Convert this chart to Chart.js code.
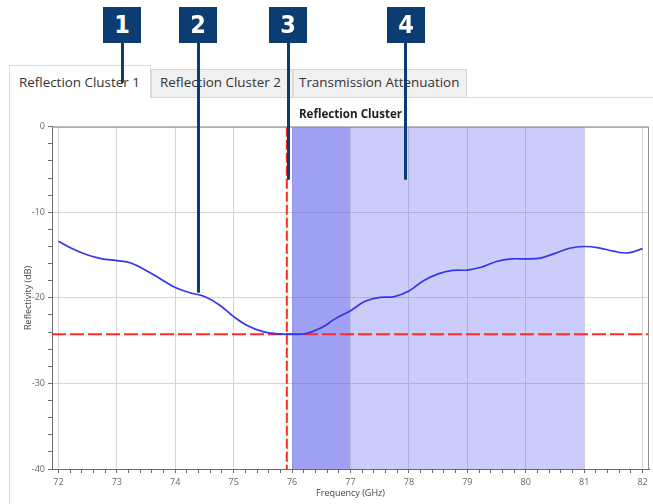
<!DOCTYPE html>
<html>
<head>
<meta charset="utf-8">
<title>Reflection Cluster</title>
<script src="https://cdn.jsdelivr.net/npm/chart.js@4.4.1/dist/chart.umd.min.js"></script>
<style>
    html, body {
        margin: 0;
        padding: 0;
        background: #fff;
    }

    body {
        position: relative;
        width: 653px;
        height: 504px;
        overflow: hidden;
        font-family: "Open Sans", "Noto Sans", sans-serif;
    }

    .painel {
        position: absolute;
        left: 9px;
        top: 97px;
        width: 700px;
        height: 500px;
        border-top: 1px solid #d9d9d9;
        border-left: 1px solid #d9d9d9;
    }

    .aba {
        position: absolute;
        box-sizing: border-box;
        font-size: 13.4px;
        color: #333;
        white-space: nowrap;
        border: 1px solid #d9d9d9;
        border-bottom: none;
        background: #f0f0f0;
    }

    .aba.ativa {
        background: #fff;
        z-index: 2;
    }

    #graficoReflexao {
        position: absolute;
        left: 0;
        top: 98px;
    }

    .marcador {
        position: absolute;
        top: 7px;
        width: 38px;
        height: 36px;
        background: #0b3d72;
        color: #fff;
        font-family: "Liberation Sans Narrow", "DejaVu Sans Condensed", sans-serif;
        font-weight: bold;
        font-size: 25px;
        line-height: 36px;
        text-align: center;
        z-index: 5;
    }

    .haste {
        position: absolute;
        top: 40px;
        width: 3px;
        margin-left: -1.5px;
        background: #0b3d72;
        border-radius: 0 0 2px 2px;
        z-index: 5;
    }
</style>
</head>
<body>

<div class="painel"></div>

<div class="aba ativa" style="left:9px; top:65px; width:142px; height:33px; padding:7px 0 0 9px;">Reflection Cluster 1</div>
<div class="aba" style="left:151px; top:69px; width:142px; height:28px; padding:3px 0 0 8px;">Reflection Cluster 2</div>
<div class="aba" style="left:293px; top:69px; width:174px; height:28px; padding:3px 0 0 5px;">Transmission Attenuation</div>

<canvas id="graficoReflexao" width="653" height="406"></canvas>

<div class="haste" style="left:122.5px; height:43px;"></div>
<div class="haste" style="left:198px; height:253px;"></div>
<div class="haste" style="left:288px; height:140px;"></div>
<div class="haste" style="left:405.5px; height:140px;"></div>

<div class="marcador" style="left:103px;">1</div>
<div class="marcador" style="left:179px;">2</div>
<div class="marcador" style="left:269px;">3</div>
<div class="marcador" style="left:387px;">4</div>

<script>
/* ==========================================================================
   Reflection Cluster – reflectivity versus frequency
   ========================================================================== */

// curve (GHz / dB)
const frequencias = [
    72.0, 72.25, 72.5, 72.75, 73.0, 73.25, 73.5, 73.75, 74.0, 74.25,
    74.5, 74.75, 75.0, 75.25, 75.5, 75.75, 76.0, 76.25, 76.5, 76.75,
    77.0, 77.25, 77.5, 77.75, 78.0, 78.25, 78.5, 78.75, 79.0, 79.25,
    79.5, 79.75, 80.0, 80.25, 80.5, 80.75, 81.0, 81.25, 81.5, 81.75, 82.0
];

const refletividade = [
    -13.4, -14.3, -15.0, -15.45, -15.65, -15.95, -16.8, -17.8, -18.8, -19.4,
    -19.85, -20.8, -22.2, -23.3, -23.95, -24.2, -24.25, -24.15, -23.5, -22.4,
    -21.5, -20.4, -19.95, -19.85, -19.2, -18.0, -17.2, -16.8, -16.75, -16.4,
    -15.75, -15.45, -15.45, -15.35, -14.8, -14.2, -14.0, -14.15, -14.55, -14.75, -14.25
];

// axis ticks and ranges
const ticksFrequencia = [72, 73, 74, 75, 76, 77, 78, 79, 80, 81, 82];
const ticksRefletividade = [0, -10, -20, -30, -40];
const faixaFrequencia = [71.89, 82.11];
const faixaRefletividade = [-40, 0];

// markers
const limiarDb = -24.25;
const marcadorGHz = 75.91;
const bandaEscura = [76, 77];
const bandaClara = [77, 81];

function pontosCurva() {
    return frequencias.map((f, i) => ({ x: f, y: refletividade[i] }));
}

function ehInteiro(valor) {
    return Math.abs(valor - Math.round(valor)) < 1e-6;
}

function montarTicksFrequencia(scale) {
    const lista = [];

    ticksFrequencia.forEach((f, i) => {
        lista.push({ value: f });

        if (i < ticksFrequencia.length - 1) {
            for (let k = 1; k < 5; k++) {
                lista.push({ value: f + k * 0.2 });
            }
        }
    });

    scale.ticks = lista;
}

const bordaArea = {
    id: "bordaArea",
    afterDatasetsDraw(chart) {
        const { ctx, chartArea: a } = chart;

        ctx.save();
        ctx.strokeStyle = "#8f8f8f";
        ctx.lineWidth = 1;
        ctx.beginPath();
        ctx.moveTo(a.left, a.top + 0.5);
        ctx.lineTo(a.right - 0.5, a.top + 0.5);
        ctx.lineTo(a.right - 0.5, a.bottom);
        ctx.stroke();
        ctx.restore();
    }
};

function criarGraficoReflexao() {
    const canvas = document.getElementById("graficoReflexao");
    if (!canvas || typeof Chart === "undefined") return;

    const [yMin, yMax] = faixaRefletividade;
    const [xMin, xMax] = faixaFrequencia;

    new Chart(canvas, {
        type: "line",
        data: {
            datasets: [
                {
                    label: "Reflectivity",
                    data: pontosCurva(),
                    borderColor: "#3535ee",
                    borderWidth: 1.7,
                    tension: 0.4,
                    pointRadius: 0,
                    fill: false,
                    order: 0
                },
                {
                    label: "Threshold",
                    data: [{ x: xMin, y: limiarDb }, { x: xMax, y: limiarDb }],
                    borderColor: "#ff2a2a",
                    borderWidth: 2,
                    borderDash: [14, 4],
                    pointRadius: 0,
                    fill: false,
                    order: 1
                },
                {
                    label: "Marker",
                    data: [{ x: marcadorGHz, y: yMax }, { x: marcadorGHz, y: yMin }],
                    borderColor: "#ff2a2a",
                    borderWidth: 2,
                    borderDash: [10, 3],
                    pointRadius: 0,
                    fill: false,
                    order: 1
                },
                {
                    label: "Band 1",
                    data: [{ x: bandaEscura[0], y: yMax }, { x: bandaEscura[1], y: yMax }],
                    borderWidth: 0,
                    borderColor: "transparent",
                    backgroundColor: "rgba(80, 80, 235, 0.54)",
                    pointRadius: 0,
                    fill: { value: yMin },
                    order: 5
                },
                {
                    label: "Band 2",
                    data: [{ x: bandaClara[0], y: yMax }, { x: bandaClara[1], y: yMax }],
                    borderWidth: 0,
                    borderColor: "transparent",
                    backgroundColor: "rgba(100, 100, 240, 0.33)",
                    pointRadius: 0,
                    fill: { value: yMin },
                    order: 5
                }
            ]
        },
        options: {
            responsive: false,
            animation: false,
            layout: {
                padding: { left: 0, right: 4, top: 9.8, bottom: 0 }
            },
            plugins: {
                legend: { display: false },
                tooltip: { enabled: false },
                title: {
                    display: true,
                    text: "Reflection Cluster",
                    fullSize: false,
                    color: "#222",
                    font: { family: "Open Sans", size: 11.6, weight: "bold", lineHeight: 1.25 },
                    padding: { top: 0, bottom: 4.4 }
                }
            },
            scales: {
                x: {
                    type: "linear",
                    min: xMin,
                    max: xMax,
                    afterBuildTicks: montarTicksFrequencia,
                    afterFit: s => { s.height = 35; },
                    ticks: {
                        autoSkip: false,
                        maxRotation: 0,
                        padding: 4,
                        color: "#666",
                        font: { family: "Open Sans", size: 9 },
                        callback: v => (ehInteiro(v) ? Math.round(v) : "")
                    },
                    grid: {
                        color: c => (c.tick && ehInteiro(c.tick.value) ? "#d4d4d4" : "transparent"),
                        tickColor: "#6a6a6a",
                        tickLength: 4
                    },
                    border: { color: "#6a6a6a" },
                    title: {
                        display: true,
                        text: "Frequency (GHz)",
                        color: "#444",
                        font: { family: "Open Sans", size: 9, lineHeight: 1.2 },
                        padding: { top: 0, bottom: 5 }
                    }
                },
                y: {
                    min: yMin,
                    max: yMax,
                    afterFit: s => { s.width = 52; },
                    ticks: {
                        stepSize: 2,
                        maxTicksLimit: 60,
                        autoSkip: false,
                        padding: 3,
                        color: "#666",
                        font: { family: "Open Sans", size: 9 },
                        callback: v => (ticksRefletividade.includes(v) ? v : "")
                    },
                    grid: {
                        color: c => (c.tick && ticksRefletividade.includes(c.tick.value) ? "#d4d4d4" : "transparent"),
                        tickColor: "#6a6a6a",
                        tickLength: 4
                    },
                    border: { color: "#6a6a6a" },
                    title: {
                        display: true,
                        text: "Reflectivity (dB)",
                        color: "#444",
                        font: { family: "Open Sans", size: 9, lineHeight: 1.2 },
                        padding: { top: 22.6, bottom: 0 }
                    }
                }
            }
        },
        plugins: [bordaArea]
    });
}

criarGraficoReflexao();
</script>
</body>
</html>
